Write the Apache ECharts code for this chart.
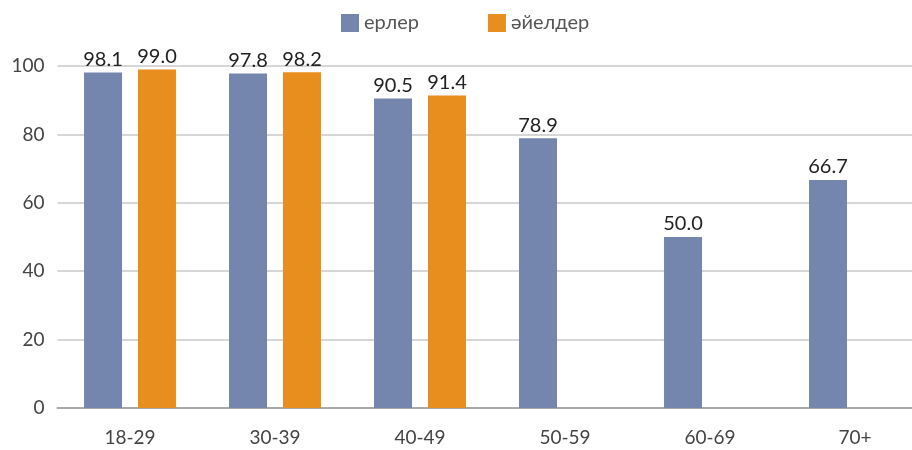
<!DOCTYPE html>
<html><head><meta charset="utf-8">
<script src="https://cdn.jsdelivr.net/npm/echarts@6/dist/echarts.min.js"></script>
<style>html,body{margin:0;padding:0;background:#fff;overflow:hidden}#c{width:912px;height:450px}</style>
</head><body><div id="c"></div>
<script>
const categories = ['18-29','30-39','40-49','50-59','60-69','70+'];
const men = [98.1, 97.8, 90.5, 78.9, 50.0, 66.7];
const women = [99.0, 98.2, 91.4, null, null, null];
const seriesNames = ['ерлер','әйелдер'];
const yTicks = [0,20,40,60,80,100];

const chart = echarts.init(document.getElementById('c'), null, {renderer:'canvas'});
const font = 'Lato, "Noto Sans", sans-serif';
const lbl = {show:true, position:'top', distance:3, color:'#222', fontSize:20, fontFamily:font, formatter:p=>p.value==null?'':p.value.toFixed(1)};
chart.setOption({
  animation:false,
  legend:{top:8, left:336, itemWidth:18, itemHeight:18, itemGap:69,
    icon:'rect', textStyle:{fontSize:20, color:'#555', fontFamily:font}, data:seriesNames},
  grid:{left:57.5, width:870, top:66, bottom:42, outerBoundsMode:'none', containLabel:false},
  xAxis:{type:'category', data:categories,
    axisLine:{lineStyle:{color:'#aaa', width:2}}, axisTick:{show:false},
    axisLabel:{fontSize:19, color:'#444', fontFamily:font, margin:20}},
  yAxis:{type:'value', min:0, max:100, interval:20,
    axisLabel:{fontSize:19, color:'#444', fontFamily:font, margin:13},
    splitLine:{lineStyle:{color:'#c8c8c8', width:1.5}}},
  series:[
    {name:seriesNames[0], type:'bar', data:men, barWidth:38, barGap:'42%', itemStyle:{color:'#7586ae'}, label:lbl},
    {name:seriesNames[1], type:'bar', data:women, barWidth:38, itemStyle:{color:'#e88e1e'}, label:lbl}
  ]
});
</script></body></html>
